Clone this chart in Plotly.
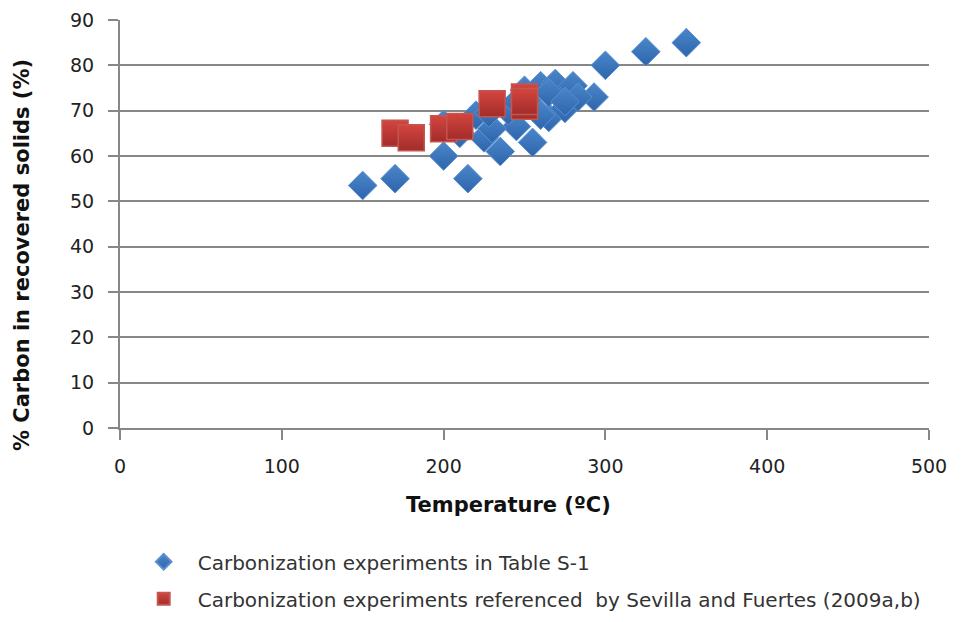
import plotly.graph_objects as go

blue_name = "Carbonization experiments in Table S-1"
blue_x = [150, 170, 200, 215, 225, 235, 255, 245, 265, 275, 293, 300, 325, 350,
          200, 220, 230, 250, 260, 269, 280, 265, 283, 275, 240, 255, 260, 210, 228, 245]
blue_y = [53.5, 55, 60, 55, 64, 61, 63, 66.5, 68.5, 70.5, 73, 80, 83, 85,
          67, 69, 66, 74.5, 75.5, 76, 75.5, 74, 73, 72, 70, 71, 69, 65, 69.5, 72]

red_name = "Carbonization experiments referenced  by Sevilla and Fuertes (2009a,b)"
red_x = [170, 180, 200, 210, 230, 250, 250, 250]
red_y = [65, 64, 66, 66.5, 71.5, 73, 71, 72]

x_ticks = [0, 100, 200, 300, 400, 500]
y_ticks = [0, 10, 20, 30, 40, 50, 60, 70, 80, 90]

FONT = "DejaVu Sans"
fig = go.Figure()
fig.add_trace(go.Scatter(
    x=blue_x, y=blue_y, mode="markers", name=blue_name, legendgroup="a",
    marker=dict(symbol="diamond", size=22, color="#4A86CA",
                gradient=dict(type="vertical", color="#2E65AC"),
                line=dict(color="#5B8FD0", width=1)),
))
fig.add_trace(go.Scatter(
    x=red_x, y=red_y, mode="markers", name=red_name, legendgroup="b",
    marker=dict(symbol="square", size=26, color="#D4453F",
                gradient=dict(type="vertical", color="#A22C2A"),
                line=dict(color="#C25650", width=1.5)),
))

fig.update_layout(
    width=971, height=622,
    margin=dict(l=112, r=50, t=12, b=202),
    paper_bgcolor="white", plot_bgcolor="white",
    font=dict(family=FONT, size=19, color="#222"),
    showlegend=True,
    legend=dict(x=0.012, y=-0.28, xanchor="left", yanchor="top",
                font=dict(family=FONT, size=20, color="#333"),
                tracegroupgap=8, itemsizing="constant", itemwidth=58,
                bgcolor="rgba(0,0,0,0)"),
    xaxis=dict(range=[0, 500], tickvals=x_ticks, showgrid=False,
               showline=True, linecolor="#878787", linewidth=2,
               ticks="outside", ticklen=10, tickcolor="#878787", tickwidth=2,
               tickfont=dict(family=FONT, size=19, color="#222"),
               ticklabelstandoff=10, zeroline=False, automargin=False),
    yaxis=dict(range=[0, 90], tickvals=y_ticks, showgrid=True,
               gridcolor="#878787", gridwidth=2,
               showline=True, linecolor="#878787", linewidth=2,
               ticks="outside", ticklen=10, tickcolor="#878787", tickwidth=2,
               tickfont=dict(family=FONT, size=19, color="#222"),
               ticklabelstandoff=10, zeroline=False, automargin=False),
    annotations=[
        dict(text="<b>% Carbon in recovered solids (%)</b>",
             xref="paper", yref="paper", x=-0.121, y=0.424,
             xanchor="center", yanchor="middle", textangle=-90,
             showarrow=False,
             font=dict(family=FONT, size=21, color="#111")),
        dict(text="<b>Temperature (ºC)</b>",
             xref="paper", yref="paper", x=0.48, y=-0.189,
             xanchor="center", yanchor="middle",
             showarrow=False,
             font=dict(family=FONT, size=21, color="#111")),
    ],
)
fig.write_html("out.html")
